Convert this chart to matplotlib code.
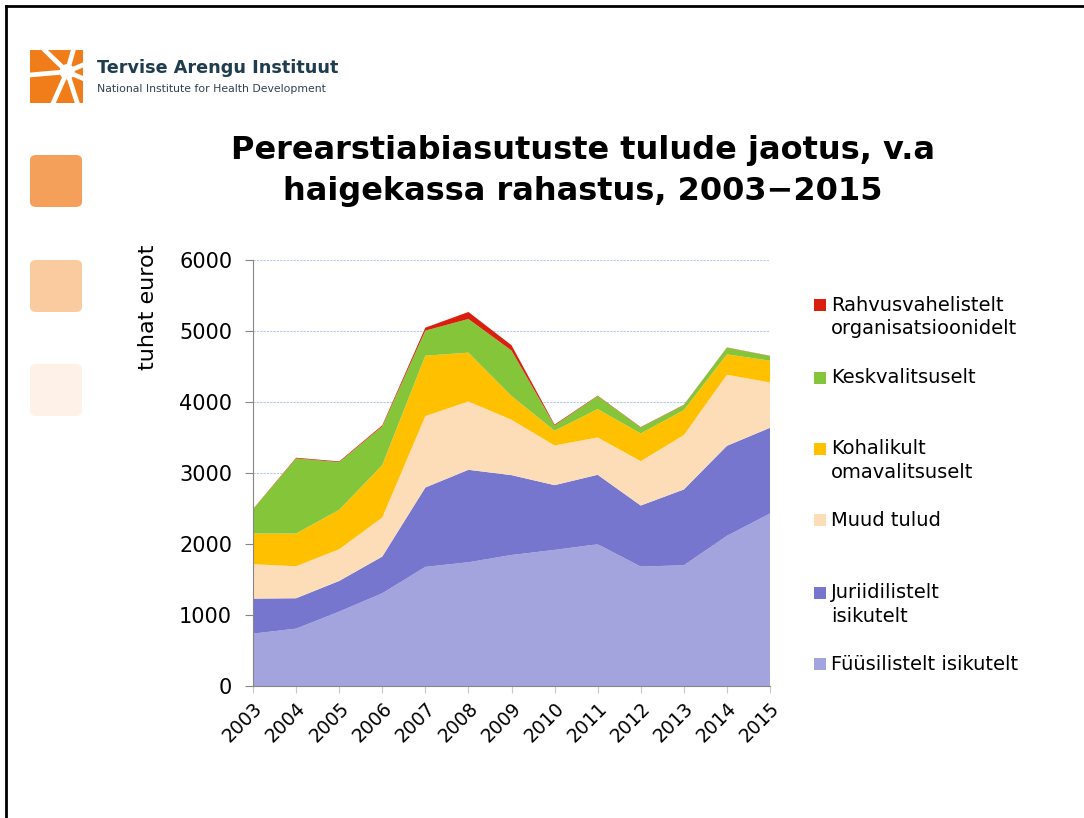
import numpy as np
import matplotlib.pyplot as plt
from matplotlib.patches import Rectangle, FancyBboxPatch, Circle
from matplotlib.lines import Line2D

years = list(range(2003, 2016))
fuus = [738, 808, 1048, 1306, 1678, 1743, 1845, 1917, 1997, 1682, 1701, 2115, 2430]
juri = [493, 428, 432, 517, 1118, 1302, 1125, 912, 978, 860, 1067, 1268, 1207]
muud = [484, 451, 447, 550, 1006, 963, 780, 559, 526, 625, 766, 1001, 639]
kohal = [433, 461, 554, 738, 850, 687, 335, 207, 399, 390, 352, 287, 306]
kesk = [343, 1057, 672, 545, 353, 474, 640, 75, 184, 85, 71, 94, 66]
rahv = [2, 10, 10, 15, 42, 99, 75, 12, 6, 5, 4, 3, 3]

series = [fuus, juri, muud, kohal, kesk, rahv]
labels = ["Füüsilistelt isikutelt", "Juriidilistelt\nisikutelt", "Muud tulud",
          "Kohalikult\nomavalitsuselt", "Keskvalitsuselt",
          "Rahvusvahelistelt\norganisatsioonidelt"]
colors = ["#A3A3DD", "#7676CF", "#FDDDB7", "#FFC000", "#85C53A", "#D9200F"]

title = "Perearstiabiasutuste tulude jaotus, v.a\nhaigekassa rahastus, 2003\u22122015"

W, H = 1084, 818
fig = plt.figure(figsize=(W / 100, H / 100), dpi=100)

def fx(px):
    return px / W

def fy(py):
    return 1 - py / H

# frame lines
fig.add_artist(Line2D([fx(6), fx(6)], [0, fy(6)], color="black", lw=2))
fig.add_artist(Line2D([fx(6), 1], [fy(6), fy(6)], color="black", lw=2))

# logo
lax = fig.add_axes([fx(30), fy(103), fx(53), (103 - 50) / H])
lax.set_xlim(0, 1)
lax.set_ylim(0, 1)
lax.axis("off")
lax.add_patch(Rectangle((0, 0), 1, 1, color="#F07D19"))
cx, cy = 0.70, 0.59
for ang in [185, 136, 74, 23, -23, -72, -114]:
    a = np.radians(ang)
    lax.plot([cx, cx + 1.2 * np.cos(a)], [cy, cy + 1.2 * np.sin(a)],
             color="white", lw=3.4, solid_capstyle="butt")
lax.add_patch(Circle((cx, cy), 0.13, color="white"))

fig.text(fx(97), fy(68), "Tervise Arengu Instituut", fontsize=12.7,
         fontweight="bold", color="#1F3D4E", va="center", ha="left")
fig.text(fx(97), fy(89), "National Institute for Health Development", fontsize=7.8,
         color="#2B4352", va="center", ha="left")

# side squares
for top, c in [(155, "#F5A05A"), (260, "#FACB9F"), (364, "#FEF1E7")]:
    fig.add_artist(FancyBboxPatch((fx(30), fy(top + 52)), fx(52), 52 / H,
                                  boxstyle="round,pad=0,rounding_size=0.006",
                                  transform=fig.transFigure, facecolor=c,
                                  edgecolor="none"))

# title
fig.text(0.538, fy(171), title, fontsize=23, fontweight="bold",
         ha="center", va="center", linespacing=1.45)

# chart
ax = fig.add_axes([fx(253), fy(686), fx(770 - 253), (686 - 260) / H])
ax.stackplot(years, *series, colors=colors, linewidth=0)
ax.set_xlim(2003, 2015)
ax.set_ylim(0, 6000)
ax.set_yticks(range(0, 6001, 1000))
ax.set_xticks(years)
ax.set_xticklabels([str(y) for y in years], rotation=45, ha="right",
                   rotation_mode="anchor")
ax.tick_params(axis="y", labelsize=15, length=6, color="#868686", pad=9)
ax.tick_params(axis="x", labelsize=13.5, length=5, color="#C8C8C8", pad=4)
ax.yaxis.grid(True, color="#B4CCE2", linestyle=(0, (2, 1)), linewidth=0.8)
ax.set_axisbelow(True)
for s in ["top", "right"]:
    ax.spines[s].set_visible(False)
ax.spines["left"].set_color("#868686")
ax.spines["bottom"].set_color("#868686")

fig.text(fx(148), fy(307), "tuhat eurot", fontsize=16, rotation=90,
         ha="center", va="center")

# legend
leg_y = [664, 593, 520, 449, 378, 305]
for lab, c, y in zip(labels, colors, leg_y):
    fig.add_artist(Rectangle((fx(814), fy(y + 6)), fx(12), 12 / H,
                             transform=fig.transFigure, facecolor=c,
                             edgecolor="none"))
    for i, line in enumerate(lab.split("\n")):
        fig.text(fx(831), fy(y + 23 * i), line, fontsize=14,
                 ha="left", va="center")

fig.savefig("out.png", dpi=100)
